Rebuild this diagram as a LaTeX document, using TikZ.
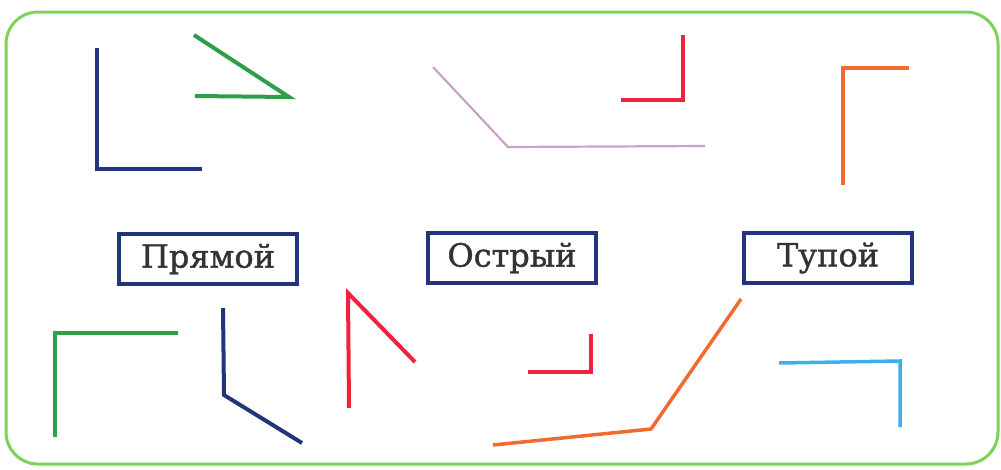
\documentclass[tikz,border=0pt]{standalone}
\usepackage{fontspec}
\setmainfont{DejaVu Serif}
\newfontfamily\lblfont[FakeBold=1.2]{DejaVu Serif}
\definecolor{navy}{HTML}{23357A}
\definecolor{fgreen}{HTML}{7DD35A}
\definecolor{mgreen}{HTML}{2E9E4A}
\definecolor{lpurple}{HTML}{C9A2C9}
\definecolor{rred}{HTML}{F0233A}
\definecolor{oorange}{HTML}{F26A30}
\definecolor{lblue}{HTML}{3DB0EA}
\begin{document}
\begin{tikzpicture}[x=1pt,y=-1pt,
  ray/.style={line width=4pt, line join=miter, line cap=butt},
  label/.style={draw=navy, line width=4pt, fill=white, minimum height=50pt, inner sep=0pt,
    font=\lblfont\fontsize{32}{38}\selectfont, text=black!80}]
\useasboundingbox (0,0) rectangle (1001,469);
\draw[fgreen, line width=3pt, rounded corners=32pt] (6,12) rectangle (998,464);
% top row
\draw[ray, navy] (97,48) -- (97,169) -- (202,169);
\draw[ray, mgreen] (194,35) -- (289,97) -- (195,96);
\draw[lpurple, line width=2.2pt] (433,67) -- (508,147) -- (705,146);
\draw[ray, rred] (683,35) -- (683,100) -- (621,100);
\draw[ray, oorange, line width=3.5pt] (843,185) -- (843,68) -- (909,68);
% labels
\node[label, minimum width=178pt] (pr) at (208,259) {Прямой};
\node[label, minimum width=168pt] (os) at (512,258) {Острый};
\node[label, minimum width=168pt] (tu) at (828,258) {Тупой};
% bottom row
\draw[ray, mgreen] (55,437) -- (55,333) -- (178,333);
\draw[ray, navy] (223,308) -- (224,395) -- (302,443);
\draw[ray, rred] (349,408) -- (348,293) -- (415,362);
\draw[ray, rred] (528,372) -- (591,372) -- (591,334);
\draw[ray, oorange, line width=3.5pt] (493,445) -- (651,429) -- (741,299);
\draw[ray, lblue, line width=3.5pt] (779,363) -- (900,361) -- (900,427);
\end{tikzpicture}
\end{document}
